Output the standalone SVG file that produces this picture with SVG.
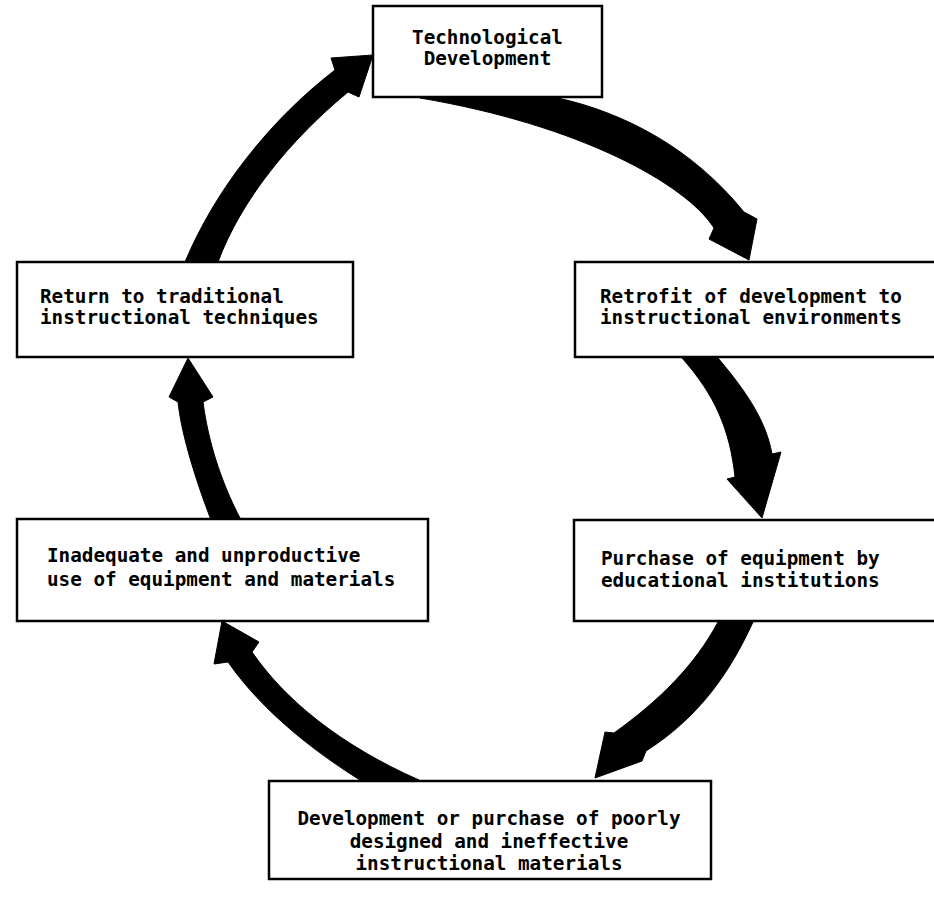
<svg xmlns="http://www.w3.org/2000/svg" width="934" height="902" viewBox="0 0 934 902">
<style>
.box{fill:#fff;stroke:#000;stroke-width:2.5}
.t{font-family:"DejaVu Sans Mono","Liberation Mono",monospace;font-size:19.3px;font-weight:bold;fill:#000}
.c{text-anchor:middle}
.arr{fill:#000;stroke:#000;stroke-width:1;stroke-linejoin:round}
</style>
<rect width="934" height="902" fill="#fff"/>
<g id="connectors">
<path class="arr" d="M 420 98 L 558 98 C 625 113, 692 148, 744 212 L 757 219 L 749 260 L 709 239 L 714 228 C 686 184, 580 125, 420 98 Z"/>
<path class="arr" d="M 682 358 L 718 358 C 745 390, 766 420, 772 454 L 781 452 L 762 518 L 727 479 L 735 477 C 730 430, 715 395, 682 358 Z"/>
<path class="arr" d="M 718 622 L 753 622 C 731 670, 701 716, 646 751 L 642 761 L 595 778 L 605 732 L 614 733 C 660 700, 695 665, 718 622 Z"/>
<path class="arr" d="M 419 780 L 360 780 C 320 755, 265 715, 228 662 L 214 664 L 222 621 L 259 642 L 252 652 C 285 700, 340 745, 419 780 Z"/>
<path class="arr" d="M 211 520 C 192 470, 181 430, 178 402 L 169 397 L 188 358 L 213 397 L 203 402 C 208 440, 220 480, 241 520 Z"/>
<path class="arr" d="M 185 262 L 218 262 C 241 200, 290 140, 348 92 L 359 97 L 373 55 L 331 58 L 335 70 C 270 120, 215 190, 185 262 Z"/>
</g>
<g id="node-tech">
<rect class="box" x="373" y="6" width="229" height="91"/>
<text class="t c" x="487.5" y="44">Technological</text>
<text class="t c" x="487.5" y="65">Development</text>
</g>
<g id="node-retrofit">
<rect class="box" x="575" y="262" width="370" height="95"/>
<text class="t" x="600" y="303">Retrofit of development to</text>
<text class="t" x="600" y="324">instructional environments</text>
</g>
<g id="node-purchase">
<rect class="box" x="574" y="520" width="370" height="101"/>
<text class="t" x="601" y="565">Purchase of equipment by</text>
<text class="t" x="601" y="587">educational institutions</text>
</g>
<g id="node-development">
<rect class="box" x="269" y="781" width="442" height="98"/>
<text class="t c" x="489" y="825">Development or purchase of poorly</text>
<text class="t c" x="489" y="848">designed and ineffective</text>
<text class="t c" x="489" y="870">instructional materials</text>
</g>
<g id="node-inadequate">
<rect class="box" x="17" y="519" width="411" height="102"/>
<text class="t" x="47" y="562">Inadequate and unproductive</text>
<text class="t" x="47" y="586">use of equipment and materials</text>
</g>
<g id="node-return">
<rect class="box" x="17" y="262" width="336" height="95"/>
<text class="t" x="40" y="303">Return to traditional</text>
<text class="t" x="40" y="324">instructional techniques</text>
</g>
</svg>
